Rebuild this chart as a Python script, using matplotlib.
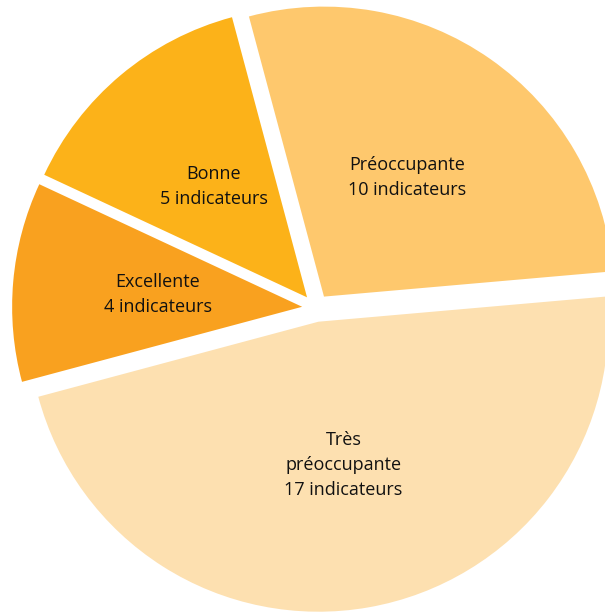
import matplotlib.pyplot as plt

labels = ['Préoccupante\n10 indicateurs', 'Bonne\n5 indicateurs',
          'Excellente\n4 indicateurs', 'Très\npréoccupante\n17 indicateurs']
values = [10, 5, 4, 17]
colors = ['#FEC86D', '#FCB219', '#F9A11F', '#FDE0B0']

plt.rcParams['font.family'] = ['Open Sans', 'DejaVu Sans']

fig = plt.figure(figsize=(6.05, 6.13), dpi=100)
ax = fig.add_axes([0, 0, 1, 1])

wedges, texts = ax.pie(values, labels=labels, colors=colors, startangle=5,
                       counterclock=True, explode=[0.048] * 4, radius=1,
                       labeldistance=0.5, textprops={'fontsize': 13, 'color': '#111111'})
for t in texts:
    t.set_ha('center')
    t.set_va('center')
    t.set_multialignment('center')
    t.set_linespacing(1.5)

ax.set_aspect('equal')
ax.set_xlim(-316 / 290, (605 - 316) / 290)
ax.set_ylim((308 - 613) / 290, 308 / 290)
ax.axis('off')

fig.savefig('out.png', dpi=100)
